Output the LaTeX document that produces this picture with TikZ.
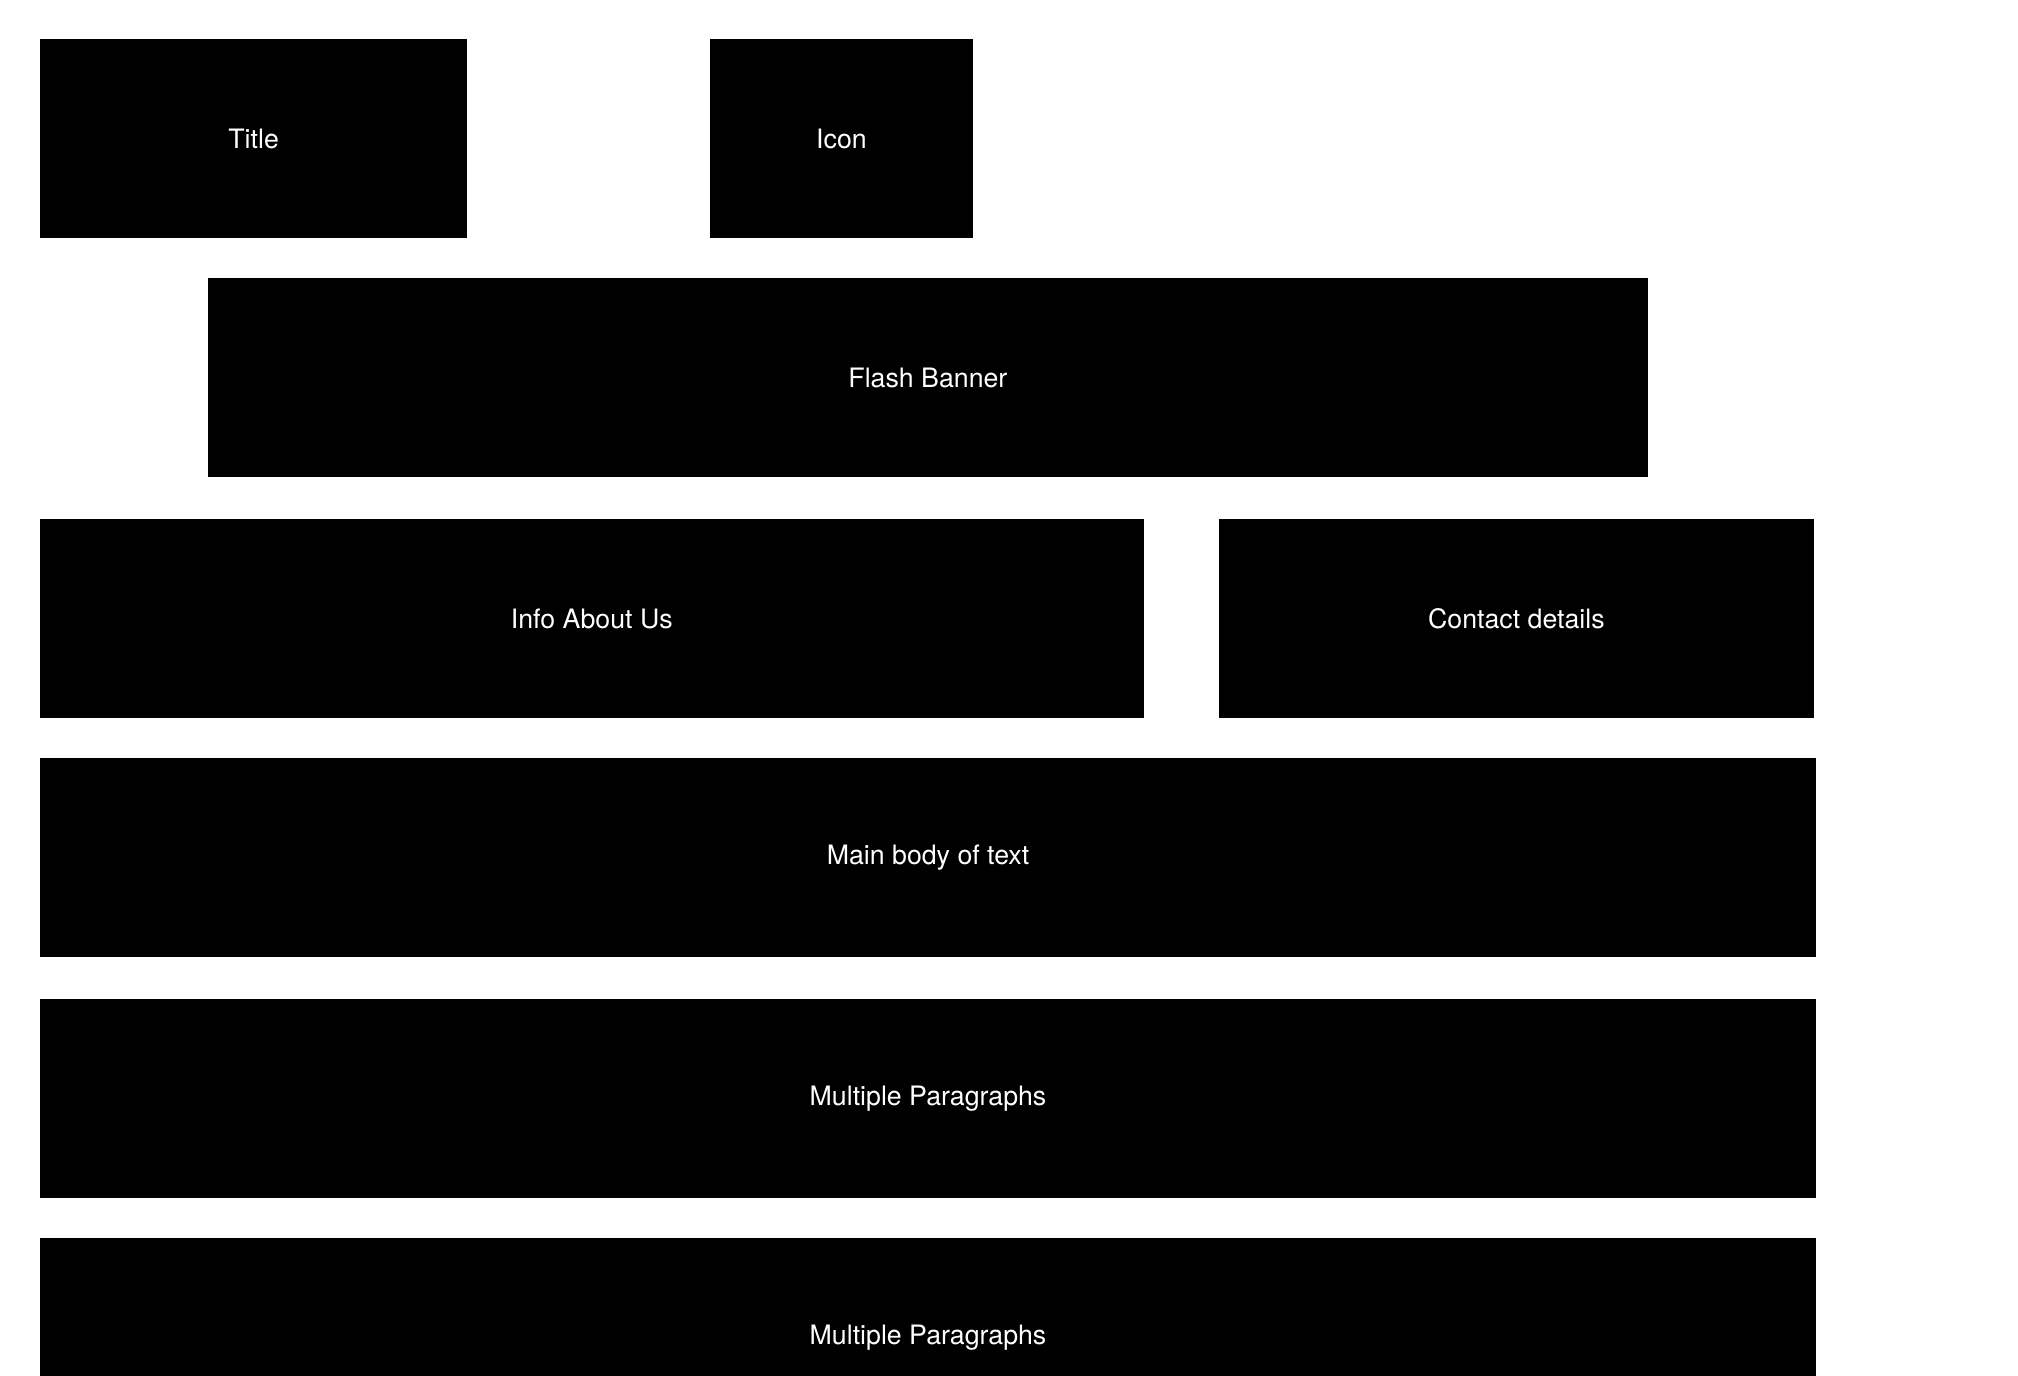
\documentclass[tikz,border=0pt]{standalone}
\usepackage{fontspec}
\setmainfont{TeX Gyre Heros}
\usetikzlibrary{positioning}

\begin{document}
\begin{tikzpicture}[
x=0.01cm, y=-0.01cm,
block/.style={rectangle, fill=black, text=white, inner sep=0pt, outer sep=0pt, minimum height=1.99cm, font=\fontsize{7.6}{9}\selectfont}
]
\useasboundingbox (0,0) rectangle (2018,1376);
\clip (0,0) rectangle (2018,1376);
\node (title) [block, minimum width=4.27cm, anchor=north west] at (40,39) {Title};
\node (icon) [block, minimum width=2.62cm, right=2.43cm of title] {Icon};
\node (banner) [block, minimum width=14.39cm, anchor=north west] at (208,278) {Flash Banner};
\node (info) [block, minimum width=11.03cm, anchor=north west] at (40,519) {Info About Us};
\node (contact) [block, minimum width=5.95cm, right=0.75cm of info] {Contact details};
\node (body) [block, minimum width=17.75cm, below=0.40cm of info.south west, anchor=north west] {Main body of text};
\node (paras) [block, minimum width=17.75cm, below=0.42cm of body] {Multiple Paragraphs};
\node (paras2) [block, minimum width=17.75cm, below=0.40cm of paras] {Multiple Paragraphs};
\end{tikzpicture}
\end{document}
